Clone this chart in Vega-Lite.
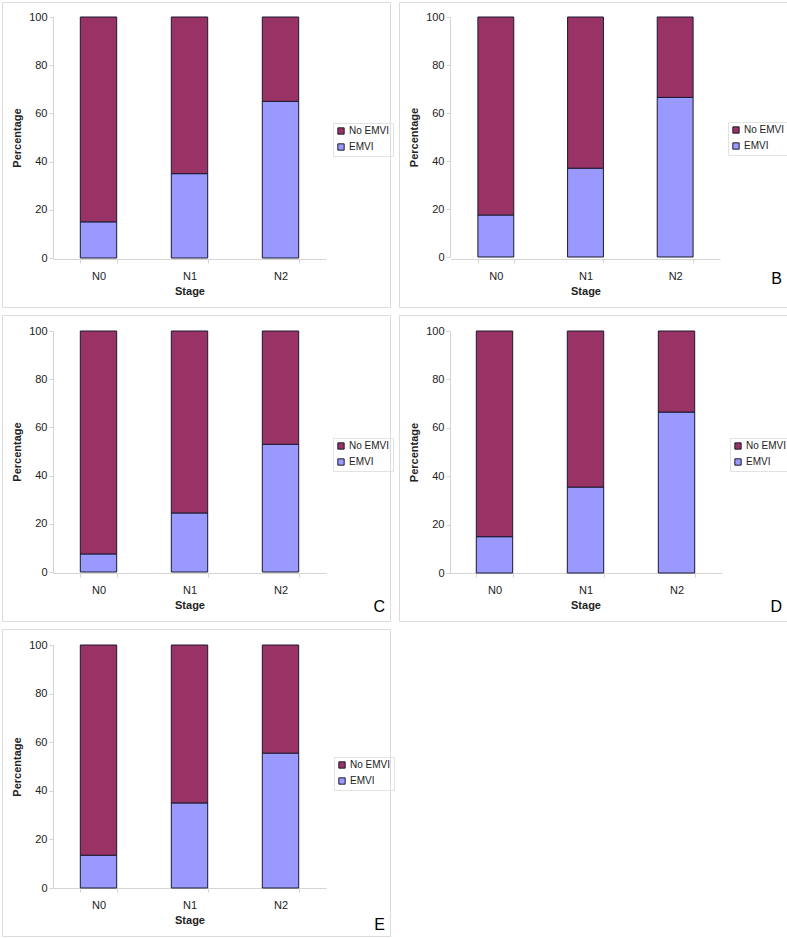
{
  "$schema": "https://vega.github.io/schema/vega-lite/v6.json",
  "padding": {"left": 1, "top": 1, "right": 0, "bottom": 0},
  "background": "white",
  "data": {
    "values": [
      {"panel": "A", "stage": "N0", "status": "EMVI", "pct": 15},
      {"panel": "A", "stage": "N0", "status": "No EMVI", "pct": 85},
      {"panel": "A", "stage": "N1", "status": "EMVI", "pct": 35},
      {"panel": "A", "stage": "N1", "status": "No EMVI", "pct": 65},
      {"panel": "A", "stage": "N2", "status": "EMVI", "pct": 65},
      {"panel": "A", "stage": "N2", "status": "No EMVI", "pct": 35},
      {"panel": "B", "stage": "N0", "status": "EMVI", "pct": 17.5},
      {"panel": "B", "stage": "N0", "status": "No EMVI", "pct": 82.5},
      {"panel": "B", "stage": "N1", "status": "EMVI", "pct": 37},
      {"panel": "B", "stage": "N1", "status": "No EMVI", "pct": 63},
      {"panel": "B", "stage": "N2", "status": "EMVI", "pct": 66.5},
      {"panel": "B", "stage": "N2", "status": "No EMVI", "pct": 33.5},
      {"panel": "C", "stage": "N0", "status": "EMVI", "pct": 7.5},
      {"panel": "C", "stage": "N0", "status": "No EMVI", "pct": 92.5},
      {"panel": "C", "stage": "N1", "status": "EMVI", "pct": 24.5},
      {"panel": "C", "stage": "N1", "status": "No EMVI", "pct": 75.5},
      {"panel": "C", "stage": "N2", "status": "EMVI", "pct": 53},
      {"panel": "C", "stage": "N2", "status": "No EMVI", "pct": 47},
      {"panel": "D", "stage": "N0", "status": "EMVI", "pct": 15},
      {"panel": "D", "stage": "N0", "status": "No EMVI", "pct": 85},
      {"panel": "D", "stage": "N1", "status": "EMVI", "pct": 35.5},
      {"panel": "D", "stage": "N1", "status": "No EMVI", "pct": 64.5},
      {"panel": "D", "stage": "N2", "status": "EMVI", "pct": 66.5},
      {"panel": "D", "stage": "N2", "status": "No EMVI", "pct": 33.5},
      {"panel": "E", "stage": "N0", "status": "EMVI", "pct": 13.5},
      {"panel": "E", "stage": "N0", "status": "No EMVI", "pct": 86.5},
      {"panel": "E", "stage": "N1", "status": "EMVI", "pct": 35},
      {"panel": "E", "stage": "N1", "status": "No EMVI", "pct": 65},
      {"panel": "E", "stage": "N2", "status": "EMVI", "pct": 55.5},
      {"panel": "E", "stage": "N2", "status": "No EMVI", "pct": 44.5}
    ]
  },
  "bounds": "flush",
  "columns": 2,
  "spacing": {"row": 8, "column": 9},
  "concat": [
    {
      "transform": [{"filter": "datum.panel == 'A'"}],
      "width": 388, "height": 305,
      "mark": {"type": "bar", "stroke": "#1a1a2e", "strokeWidth": 1},
      "encoding": {
        "x": {"field": "stage", "type": "nominal", "title": "Stage", "scale": {"range": [51, 324], "paddingInner": 0.6, "paddingOuter": 0.3}},
        "y": {"field": "pct", "type": "quantitative", "title": "Percentage", "stack": "zero", "scale": {"domain": [0, 100], "range": [256, 15]}, "axis": {"values": [0, 20, 40, 60, 80, 100]}},
        "order": {"field": "status", "sort": "ascending"},
        "color": {"field": "status", "type": "nominal", "scale": {"domain": ["No EMVI", "EMVI"], "range": ["#993366", "#9999FF"]}, "legend": {"orient": "none", "legendX": 331, "legendY": 121}}
      }
    },
    {
      "transform": [{"filter": "datum.panel == 'B'"}],
      "title": {"text": "B", "offset": -36},
      "width": 388, "height": 305,
      "mark": {"type": "bar", "stroke": "#1a1a2e", "strokeWidth": 1},
      "encoding": {
        "x": {"field": "stage", "type": "nominal", "title": "Stage", "scale": {"range": [52, 321], "paddingInner": 0.6, "paddingOuter": 0.3}},
        "y": {"field": "pct", "type": "quantitative", "title": "Percentage", "stack": "zero", "scale": {"domain": [0, 100], "range": [255, 15]}, "axis": {"values": [0, 20, 40, 60, 80, 100]}},
        "order": {"field": "status", "sort": "ascending"},
        "color": {"field": "status", "type": "nominal", "scale": {"domain": ["No EMVI", "EMVI"], "range": ["#993366", "#9999FF"]}, "legend": {"orient": "none", "legendX": 329, "legendY": 120}}
      }
    },
    {
      "transform": [{"filter": "datum.panel == 'C'"}],
      "title": {"text": "C"},
      "width": 388, "height": 306,
      "mark": {"type": "bar", "stroke": "#1a1a2e", "strokeWidth": 1},
      "encoding": {
        "x": {"field": "stage", "type": "nominal", "title": "Stage", "scale": {"range": [51, 324], "paddingInner": 0.6, "paddingOuter": 0.3}},
        "y": {"field": "pct", "type": "quantitative", "title": "Percentage", "stack": "zero", "scale": {"domain": [0, 100], "range": [257, 16]}, "axis": {"values": [0, 20, 40, 60, 80, 100]}},
        "order": {"field": "status", "sort": "ascending"},
        "color": {"field": "status", "type": "nominal", "scale": {"domain": ["No EMVI", "EMVI"], "range": ["#993366", "#9999FF"]}, "legend": {"orient": "none", "legendX": 331, "legendY": 123}}
      }
    },
    {
      "transform": [{"filter": "datum.panel == 'D'"}],
      "title": {"text": "D"},
      "width": 388, "height": 306,
      "mark": {"type": "bar", "stroke": "#1a1a2e", "strokeWidth": 1},
      "encoding": {
        "x": {"field": "stage", "type": "nominal", "title": "Stage", "scale": {"range": [50, 323], "paddingInner": 0.6, "paddingOuter": 0.3}},
        "y": {"field": "pct", "type": "quantitative", "title": "Percentage", "stack": "zero", "scale": {"domain": [0, 100], "range": [258, 16]}, "axis": {"values": [0, 20, 40, 60, 80, 100]}},
        "order": {"field": "status", "sort": "ascending"},
        "color": {"field": "status", "type": "nominal", "scale": {"domain": ["No EMVI", "EMVI"], "range": ["#993366", "#9999FF"]}, "legend": {"orient": "none", "legendX": 331, "legendY": 123}}
      }
    },
    {
      "transform": [{"filter": "datum.panel == 'E'"}],
      "title": {"text": "E", "offset": -19},
      "width": 388, "height": 307,
      "mark": {"type": "bar", "stroke": "#1a1a2e", "strokeWidth": 1},
      "encoding": {
        "x": {"field": "stage", "type": "nominal", "title": "Stage", "scale": {"range": [51, 324], "paddingInner": 0.6, "paddingOuter": 0.3}},
        "y": {"field": "pct", "type": "quantitative", "title": "Percentage", "stack": "zero", "scale": {"domain": [0, 100], "range": [259, 16]}, "axis": {"values": [0, 20, 40, 60, 80, 100]}},
        "order": {"field": "status", "sort": "ascending"},
        "color": {"field": "status", "type": "nominal", "scale": {"domain": ["No EMVI", "EMVI"], "range": ["#993366", "#9999FF"]}, "legend": {"orient": "none", "legendX": 332, "legendY": 128}}
      }
    }
  ],
  "resolve": {"scale": {"color": "independent", "x": "independent", "y": "independent"}},
  "config": {
    "view": {"stroke": "#dcdcdc", "strokeWidth": 1},
    "font": "Liberation Sans",
    "axis": {
      "labelFont": "Liberation Sans",
      "labelFontSize": 11,
      "labelColor": "#222222",
      "titleFont": "Liberation Sans",
      "titleFontSize": 11,
      "titleFontWeight": "bold",
      "titleColor": "#222222",
      "domainColor": "#d4d4d4",
      "tickColor": "#d4d4d4",
      "grid": false
    },
    "axisX": {"offset": -48, "tickBand": "extent", "labelAngle": 0, "tickSize": 4, "labelPadding": 7, "titlePadding": 4},
    "axisY": {"offset": -51, "tickSize": 4, "labelPadding": 2, "titlePadding": 6},
    "legend": {
      "title": null,
      "labelFont": "Liberation Sans",
      "labelFontSize": 10,
      "labelColor": "#222222",
      "symbolType": "square",
      "symbolSize": 40,
      "symbolStrokeColor": "#1a1a2e",
      "symbolStrokeWidth": 1,
      "symbolOpacity": 1,
      "strokeColor": "#e2e2e2",
      "padding": 3,
      "rowPadding": 4,
      "labelOffset": 3
    },
    "title": {
      "orient": "bottom",
      "anchor": "end",
      "frame": "group",
      "font": "Liberation Sans",
      "fontSize": 16,
      "fontWeight": "normal",
      "color": "#000000",
      "baseline": "alphabetic",
      "offset": -22,
      "dx": -5
    }
  }
}
